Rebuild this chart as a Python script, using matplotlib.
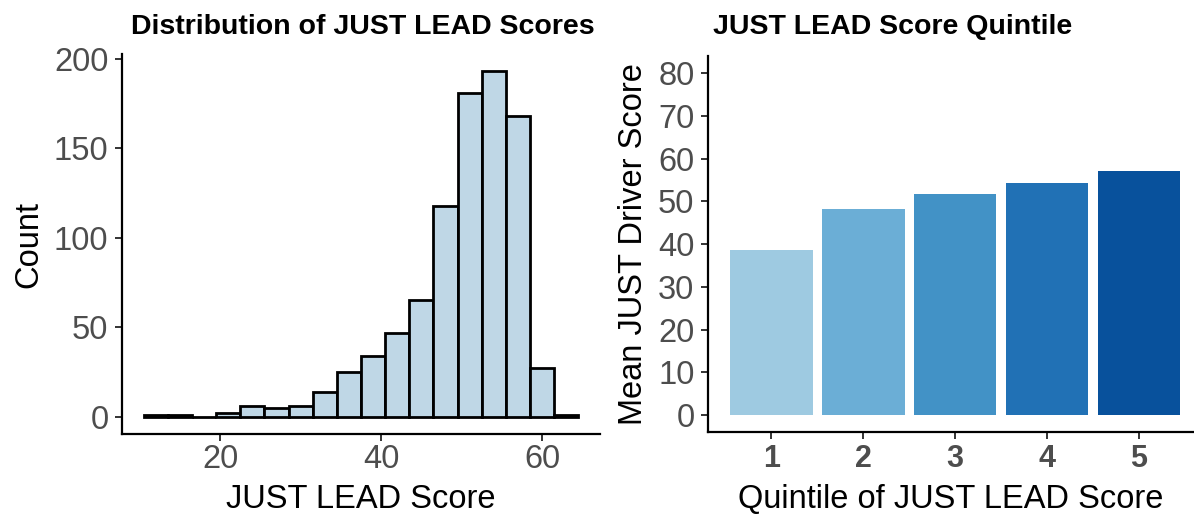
import matplotlib
matplotlib.use('Agg')
import matplotlib.pyplot as plt

plt.rcParams['font.family'] = ['Liberation Sans', 'DejaVu Sans']

# ---- data ----
bin_centers = [12, 15, 18, 21, 24, 27, 30, 33, 36, 39, 42, 45, 48, 51, 54, 57, 60, 63]
counts = [1, 1, 0, 2, 6, 5, 6, 14, 25, 34, 47, 65, 118, 181, 193, 168, 27, 1]
bin_width = 3
hist_xticks = [20, 40, 60]
hist_yticks = [0, 50, 100, 150, 200]

quintiles = ['1', '2', '3', '4', '5']
mean_driver = [38.6, 48.2, 51.7, 54.2, 57.2]
quintile_colors = ['#9ECAE1', '#6BAED6', '#4292C6', '#2171B5', '#08519C']
bar_yticks = [0, 10, 20, 30, 40, 50, 60, 70, 80]

W, H = 1194, 515
fig = plt.figure(figsize=(W / 100, H / 100), dpi=100)


def ax_rect(l, t, r, b):
    return [l / W, 1 - b / H, (r - l) / W, (b - t) / H]


TICK_COL = '#4D4D4D'


def style(ax):
    for s in ['top', 'right']:
        ax.spines[s].set_visible(False)
    for s in ['left', 'bottom']:
        ax.spines[s].set_color('black')
        ax.spines[s].set_linewidth(1.6)
    ax.tick_params(axis='both', length=4.8, width=1.4, color='#333333',
                   labelcolor=TICK_COL, labelsize=23.5)
    ax.tick_params(axis='y', pad=5.0)


# ---- left: histogram ----
ax1 = fig.add_axes(ax_rect(122, 54, 600, 434))
ax1.bar(bin_centers, counts, width=bin_width, color='#BFD7E6',
        edgecolor='black', linewidth=2.0)
ax1.set_xlim(7.8, 67.2)
ax1.set_ylim(-9.65, 202.65)
ax1.set_xticks(hist_xticks)
ax1.set_yticks(hist_yticks)
style(ax1)
ax1.tick_params(axis='x', pad=2.5)
ax1.set_xlabel('JUST LEAD Score', fontsize=23.5, color='black')
ax1.xaxis.label.set_va('baseline')
ax1.xaxis.set_label_coords(0.5, -(508 - 434) / 380)
ax1.set_ylabel('Count', fontsize=23.5, color='black')
ax1.yaxis.label.set_va('baseline')
ax1.yaxis.set_label_coords((37.5 - 122) / 478, 0.5)

# ---- right: bars ----
ax2 = fig.add_axes(ax_rect(708, 56, 1194, 432.3))
x_pos = list(range(1, len(quintiles) + 1))
ax2.bar(x_pos, mean_driver, width=0.9, color=quintile_colors)
ax2.set_xlim(0.31, 5.6)
ax2.set_ylim(-4, 84)
ax2.set_xticks(x_pos)
ax2.set_xticklabels(quintiles)
ax2.set_yticks(bar_yticks)
style(ax2)
ax2.tick_params(axis='x', pad=3.5, labelsize=22)
for lab in ax2.get_xticklabels():
    lab.set_fontweight('bold')
ax2.set_xlabel('Quintile of JUST LEAD Score', fontsize=23.5, color='black')
ax2.xaxis.label.set_va('baseline')
ax2.xaxis.set_label_coords(0.5, -(507.5 - 432.3) / 376.3)
ax2.set_ylabel('Mean JUST Driver Score', fontsize=23.5, color='black')
ax2.yaxis.label.set_va('baseline')
ax2.yaxis.set_label_coords((642 - 708) / 486, 0.5)

# ---- titles ----
fig.text(362.5 / W, 1 - 34.3 / H, 'Distribution of JUST LEAD Scores',
         ha='center', va='baseline', fontsize=20.5, fontweight='bold')
fig.text(893 / W, 1 - 34.3 / H, 'JUST LEAD Score Quintile',
         ha='center', va='baseline', fontsize=20.5, fontweight='bold')

fig.savefig('out.png', dpi=100)
